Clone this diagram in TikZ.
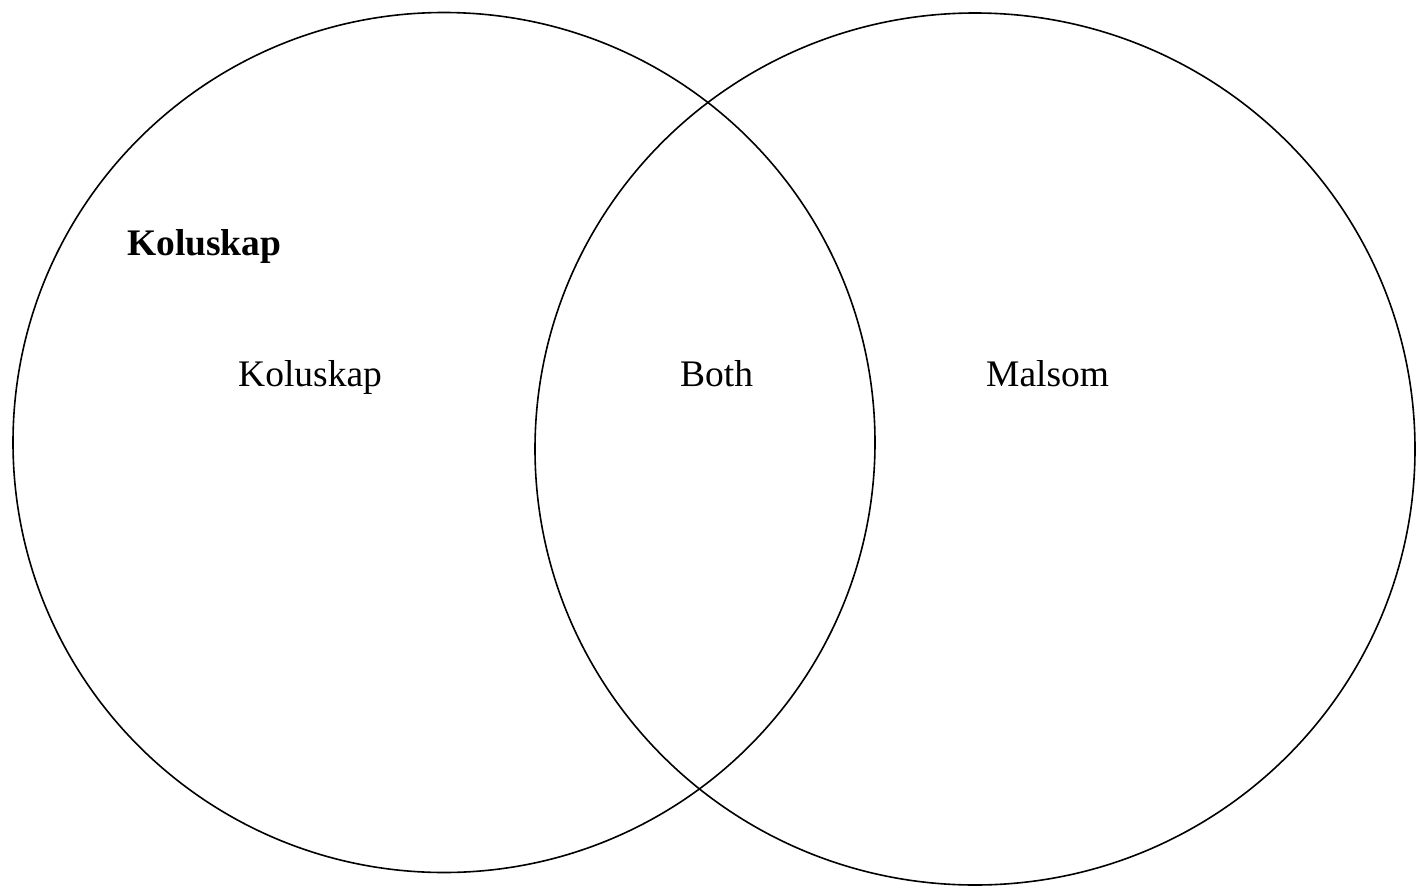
\documentclass[tikz,border=0pt]{standalone}
\usepackage{fontspec}
\setmainfont{Liberation Serif}
\begin{document}
\begin{tikzpicture}[x=1pt,y=-1pt,
  ring/.style={draw=black,line width=1.6pt},
  lbl/.style={anchor=base west,inner sep=0pt,font=\fontsize{37.5}{45}\selectfont}]
\useasboundingbox (0,0) rectangle (1416,886);
\draw[ring] (444,442.5) ellipse [x radius=431,y radius=430];
\draw[ring] (975,449) ellipse [x radius=440,y radius=436];
\node[lbl,font=\fontsize{37.5}{45}\selectfont\bfseries] (title) at (127,255) {Koluskap};
\node[lbl] (kol) at (238,386) {Koluskap};
\node[lbl] (both) at (680,386) {Both};
\node[lbl] (mal) at (986,386) {Malsom};
\end{tikzpicture}
\end{document}
